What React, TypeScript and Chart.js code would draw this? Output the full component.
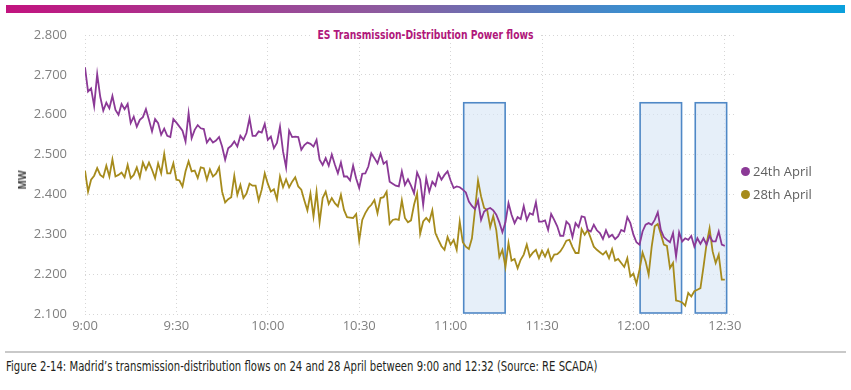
import React, { useEffect, useRef } from "react";
import { Chart, registerables } from "chart.js";

Chart.register(...registerables);

// minutes after 9:00 for the x ticks, and their labels
const tickMinutes = [0, 30, 60, 90, 120, 150, 180, 210];
const tickLabels = ["9:00", "9:30", "10:00", "10:30", "11:00", "11:30", "12:00", "12:30"];
const mwTicks = [2100, 2200, 2300, 2400, 2500, 2600, 2700, 2800];

const seriesNames = ["24th April", "28th April"];
const seriesColors = ["#8b3996", "#a68b1c"];

// one value per minute from 9:00 (MW)
const april24 = [
  2719, 2658, 2666, 2622, 2702, 2645, 2610, 2630, 2616, 2647,
  2612, 2600, 2627, 2614, 2627, 2579, 2595, 2570, 2587, 2594,
  2614, 2587, 2558, 2589, 2579, 2550, 2565, 2547, 2544, 2589,
  2580, 2570, 2560, 2533, 2604, 2541, 2562, 2574, 2566,
  2564, 2530, 2541, 2530, 2535, 2544, 2520, 2487, 2516, 2522, 2533,
  2520, 2547, 2537, 2554, 2591, 2547, 2547, 2558, 2555, 2577,
  2537, 2545, 2516, 2529, 2570, 2508, 2468, 2560, 2544, 2545,
  2544, 2512, 2524, 2530, 2527, 2520, 2537, 2487, 2474, 2491, 2472,
  2500, 2475, 2453, 2480, 2445, 2445, 2435, 2472, 2440, 2416,
  2452, 2453, 2470, 2503, 2491, 2478, 2502, 2477, 2483, 2432,
  2427, 2422, 2420, 2458, 2424, 2438, 2422, 2403, 2455, 2437,
  2374, 2441, 2407, 2432, 2422, 2453, 2437, 2449, 2458, 2435, 2416, 2420,
  2418, 2412, 2405, 2382, 2371, 2363, 2385, 2336, 2357, 2363,
  2366, 2360, 2349, 2330, 2305, 2330, 2378, 2349, 2328, 2343,
  2338, 2371, 2336, 2353, 2349, 2380, 2332, 2332, 2335, 2311,
  2351, 2336, 2320, 2296, 2296, 2332, 2324, 2293, 2328, 2318, 2345, 2343, 2311,
  2307, 2324, 2310, 2303, 2288, 2310, 2293, 2299, 2288, 2295,
  2311, 2307, 2343, 2328, 2299, 2280, 2274, 2307, 2324, 2328,
  2324, 2336, 2355, 2311, 2293, 2286, 2280, 2303, 2244, 2305,
  2282, 2290, 2286, 2296, 2269, 2290, 2276, 2290, 2274, 2296,
  2282, 2282, 2307, 2274, 2271,
];

const april28 = [
  2460, 2407, 2437, 2447, 2466, 2449, 2443, 2472, 2445, 2488,
  2445, 2449, 2455, 2443, 2474, 2441, 2449, 2468, 2443, 2480,
  2462, 2480, 2462, 2441, 2478, 2453, 2502, 2453, 2453, 2478,
  2437, 2435, 2420, 2458, 2483, 2458, 2460, 2441, 2468,
  2466, 2437, 2463, 2445, 2452, 2468, 2407, 2380, 2388, 2393, 2447,
  2399, 2424, 2391, 2402, 2427, 2422, 2422, 2385, 2412, 2453,
  2427, 2407, 2413, 2388, 2445, 2418, 2438, 2418, 2432, 2443,
  2420, 2412, 2385, 2360, 2402, 2345, 2407, 2330, 2391, 2407, 2376,
  2391, 2378, 2370, 2399, 2361, 2343, 2342, 2341, 2351, 2284,
  2336, 2353, 2366, 2374, 2386, 2353, 2391, 2393, 2407, 2326,
  2336, 2338, 2336, 2385, 2341, 2330, 2335, 2374, 2402, 2301,
  2332, 2341, 2332, 2360, 2303, 2286, 2270, 2261, 2293, 2274, 2286, 2261,
  2332, 2280, 2269, 2263, 2290, 2361, 2435, 2395, 2366, 2361,
  2318, 2346, 2310, 2243, 2261, 2218, 2278, 2234, 2238, 2215,
  2236, 2249, 2274, 2244, 2254, 2261, 2240, 2259, 2244, 2261,
  2234, 2249, 2250, 2257, 2269, 2284, 2286, 2268, 2253, 2253, 2313, 2299, 2311,
  2290, 2269, 2261, 2255, 2249, 2257, 2240, 2263, 2234, 2238,
  2228, 2218, 2240, 2194, 2201, 2176, 2211, 2254, 2232, 2199,
  2269, 2320, 2326, 2301, 2274, 2271, 2215, 2228, 2134, 2132,
  2129, 2121, 2153, 2144, 2157, 2161, 2165, 2218, 2275, 2315,
  2257, 2228, 2249, 2186, 2186,
];

// highlighted periods (minutes after 9:00) and the top of the boxes (MW)
const highlightStart = [124.3, 182.2, 200.3];
const highlightEnd = [137.9, 195.8, 210.6];
const highlightTop = 2630;

const fmtMW = (v: number) => {
  const th = Math.floor(v / 1000);
  const rest = Math.round(v - th * 1000);
  return `${th}.${String(rest).padStart(3, "0")}`;
};

const boxPlugin = {
  id: "highlightBoxes",
  beforeDatasetsDraw(chart: any) {
    const { ctx, scales } = chart;
    const x = scales.x;
    const y = scales.y;
    ctx.save();
    for (let i = 0; i < highlightStart.length; i++) {
      const x0 = x.getPixelForValue(highlightStart[i]);
      const x1 = x.getPixelForValue(highlightEnd[i]);
      const y0 = y.getPixelForValue(highlightTop);
      const y1 = y.getPixelForValue(mwTicks[0]) - 1;
      ctx.fillStyle = "rgba(214, 229, 245, 0.6)";
      ctx.fillRect(x0, y0, x1 - x0, y1 - y0);
      ctx.strokeStyle = "#4f88c6";
      ctx.lineWidth = 1.6;
      ctx.strokeRect(x0, y0, x1 - x0, y1 - y0);
    }
    ctx.restore();
  },
};

const tickFont = { family: "'Open Sans', 'Noto Sans', sans-serif", size: 13 };
const gridColor = "#d6d6d6";

export default function App() {
  const ref = useRef<HTMLCanvasElement>(null);

  useEffect(() => {
    if (!ref.current) return;
    const chart = new Chart(ref.current, {
      type: "line",
      data: {
        datasets: [
          {
            label: seriesNames[0],
            data: april24.map((v, i) => ({ x: i, y: v })),
            borderColor: seriesColors[0],
            backgroundColor: seriesColors[0],
          },
          {
            label: seriesNames[1],
            data: april28.map((v, i) => ({ x: i, y: v })),
            borderColor: seriesColors[1],
            backgroundColor: seriesColors[1],
          },
        ],
      },
      options: {
        animation: false,
        responsive: false,
        layout: { padding: { top: 35, right: 114, left: 0, bottom: 0 } },
        plugins: { legend: { display: false }, tooltip: { enabled: false }, title: { display: false } },
        elements: { point: { radius: 0 }, line: { tension: 0, borderWidth: 1.8 } },
        scales: {
          x: {
            type: "linear",
            min: 0,
            max: 214,
            afterBuildTicks: (s: any) => {
              s.ticks = tickMinutes.map((v) => ({ value: v }));
            },
            afterFit: (s: any) => {
              s.height = 26;
            },
            ticks: {
              autoSkip: false,
              maxRotation: 0,
              padding: 4,
              color: "#808080",
              font: tickFont,
              callback: (v: any) => {
                const i = tickMinutes.indexOf(Number(v));
                return i >= 0 ? tickLabels[i] : "";
              },
            },
            grid: { color: gridColor, drawTicks: false, lineWidth: 1 },
            border: { display: false, dash: [1, 3] },
          },
          y: {
            min: 2100,
            max: 2800,
            afterBuildTicks: (s: any) => {
              s.ticks = mwTicks.map((v) => ({ value: v }));
            },
            afterFit: (s: any) => {
              s.width = 85;
            },
            ticks: {
              padding: 18,
              color: "#808080",
              font: tickFont,
              callback: (v: any) => fmtMW(Number(v)),
            },
            grid: { color: gridColor, drawTicks: false, lineWidth: 1 },
            border: { display: false, dash: [1, 3] },
          },
        },
      },
      plugins: [boxPlugin],
    });
    return () => chart.destroy();
  }, []);

  const condensed = "'DejaVu Sans', sans-serif";

  return (
    <div
      style={{
        position: "absolute",
        left: 0,
        top: 0,
        width: 851,
        height: 390,
        background: "#ffffff",
        overflow: "hidden",
      }}
    >
      <div
        style={{
          position: "absolute",
          left: 6,
          top: 5,
          width: 839,
          height: 8,
          background: "linear-gradient(to right, #c2137f 0%, #8d5b9f 45%, #3a8fcf 75%, #0ba0dc 100%)",
        }}
      />
      <canvas ref={ref} width={851} height={340} style={{ position: "absolute", left: 0, top: 0, width: 851, height: 340 }} />
      <div
        style={{
          position: "absolute",
          left: 0,
          top: 25,
          width: 851,
          textAlign: "center",
          pointerEvents: "none",
          transform: "scaleX(0.71)",
          transformOrigin: "425.5px 50%",
        }}
      >
        <span
          style={{
            background: "#ffffff",
            padding: "0 6px",
            color: "#b0177b",
            fontFamily: condensed,
            fontWeight: 700,
            fontSize: 13,
            lineHeight: "18px",
          }}
        >
          ES Transmission-Distribution Power flows
        </span>
      </div>
      <div
        style={{
          position: "absolute",
          left: 22,
          top: 180,
          transform: "translate(-50%, -50%) rotate(-90deg)",
          fontFamily: "'Open Sans', 'Noto Sans', sans-serif",
          fontWeight: 700,
          fontSize: 10,
          color: "#404040",
          whiteSpace: "nowrap",
        }}
      >
        MW
      </div>
      {seriesNames.map((name, i) => (
        <div
          key={name}
          style={{
            position: "absolute",
            left: 741,
            top: 161 + i * 23,
            height: 20,
            display: "flex",
            alignItems: "center",
            fontFamily: "'Open Sans', 'Noto Sans', sans-serif",
            fontSize: 13,
            color: "#5f5f5f",
            whiteSpace: "nowrap",
          }}
        >
          <span
            style={{
              display: "inline-block",
              width: 9,
              height: 9,
              borderRadius: "50%",
              background: seriesColors[i],
              marginRight: 3,
            }}
          />
          {name}
        </div>
      ))}
      <div
        style={{
          position: "absolute",
          left: 5,
          top: 351,
          width: 841,
          height: 2,
          background: "#c9c9c9",
        }}
      />
      <div
        style={{
          position: "absolute",
          left: 6,
          top: 357,
          fontFamily: condensed,
          fontSize: 14,
          lineHeight: "18px",
          color: "#231f20",
          whiteSpace: "nowrap",
          transform: "scaleX(0.72)",
          transformOrigin: "0 50%",
        }}
      >
        Figure 2-14: Madrid’s transmission-distribution flows on 24 and 28 April between 9:00 and 12:32 (Source: RE SCADA)
      </div>
    </div>
  );
}
